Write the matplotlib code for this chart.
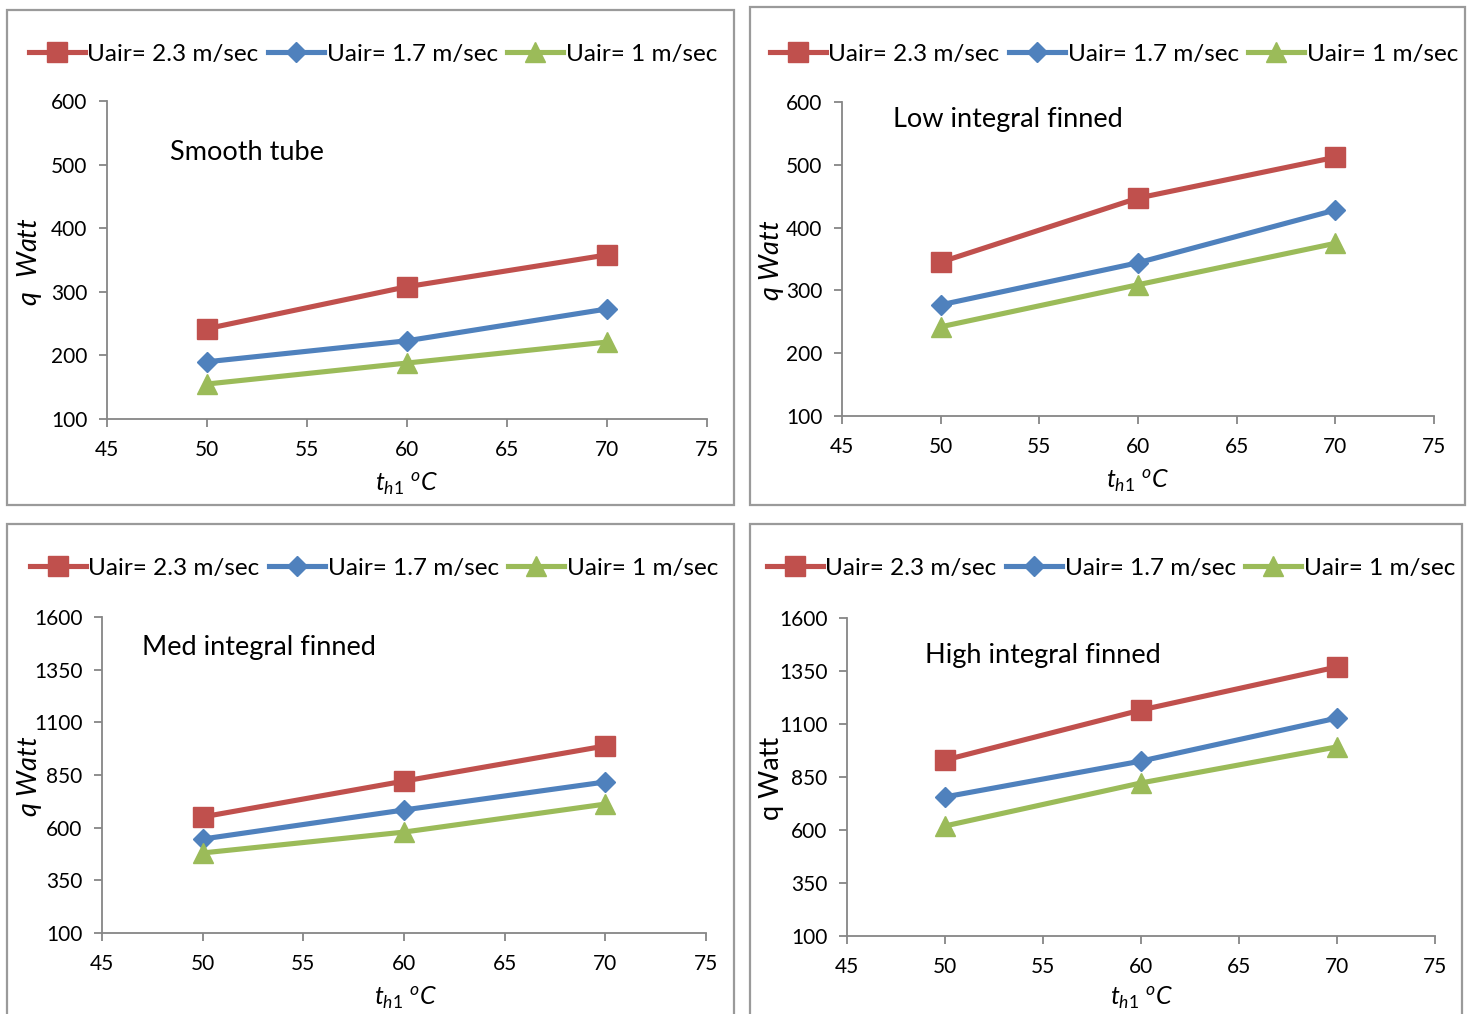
import matplotlib
matplotlib.use("Agg")
import matplotlib.pyplot as plt
from matplotlib.patches import Rectangle

plt.rcParams['font.family'] = ['Lato', 'DejaVu Sans']
plt.rcParams['mathtext.fontset'] = 'custom'
plt.rcParams['mathtext.rm'] = 'Lato'
plt.rcParams['mathtext.it'] = 'Lato:italic'

# ---- data ----
temps = [50, 60, 70]
series_labels = ['Uair= 2.3 m/sec', 'Uair= 1.7 m/sec', 'Uair= 1 m/sec']

smooth_23 = [242, 308, 358]
smooth_17 = [190, 223, 273]
smooth_10 = [155, 188, 221]

low_23 = [345, 447, 512]
low_17 = [277, 344, 428]
low_10 = [242, 309, 375]

med_23 = [651, 821, 988]
med_17 = [546, 684, 817]
med_10 = [480, 579, 712]

high_23 = [930, 1166, 1369]
high_17 = [756, 925, 1128]
high_10 = [619, 822, 992]

x_ticks = [45, 50, 55, 60, 65, 70, 75]
y_ticks_top = [100, 200, 300, 400, 500, 600]
y_ticks_bottom = [100, 350, 600, 850, 1100, 1350, 1600]

# ---- style ----
RED = '#C0504D'
BLUE = '#4F81BD'
GREEN = '#9BBB59'
SPINE = '#868686'
W, H = 1473, 1014

fig = plt.figure(figsize=(W / 100, H / 100), dpi=100, facecolor='white')


def px_rect(x0, y0, x1, y1):
    # pixel box (top-left origin) -> figure fraction [l, b, w, h]
    return [x0 / W, 1 - y1 / H, (x1 - x0) / W, (y1 - y0) / H]


panels = [
    dict(frame=(7, 10, 734, 505), ax=(107, 101, 707, 419), data=(smooth_23, smooth_17, smooth_10),
         yticks=y_ticks_top, title='Smooth tube', title_xy=(170, 153), leg=(373, 54),
         ylabel=r'$q\ \ Watt$', ylab_xy=(30, 262), xlab_xy=(407, 484)),
    dict(frame=(750, 7, 1465, 505), ax=(842, 102, 1434, 416), data=(low_23, low_17, low_10),
         yticks=y_ticks_top, title='Low integral finned', title_xy=(893, 119), leg=(1114, 54),
         ylabel=r'$q\ Watt$', ylab_xy=(772, 260), xlab_xy=(1138, 481)),
    dict(frame=(7, 524, 734, 1030), ax=(102, 617, 706, 933), data=(med_23, med_17, med_10),
         yticks=y_ticks_bottom, title='Med integral finned', title_xy=(142, 647), leg=(374, 568),
         ylabel=r'$q\ Watt$', ylab_xy=(30, 776), xlab_xy=(406, 998)),
    dict(frame=(750, 524, 1462, 1030), ax=(847, 618, 1435, 936), data=(high_23, high_17, high_10),
         yticks=y_ticks_bottom, title='High integral finned', title_xy=(925, 656), leg=(1111, 568),
         ylabel='q Watt', ylab_xy=(772, 778), xlab_xy=(1142, 998)),
]

for p in panels:
    # grey outer frame of each chart
    x0, y0, x1, y1 = p['frame']
    fig.patches.append(Rectangle((x0 / W, 1 - y1 / H), (x1 - x0) / W, (y1 - y0) / H,
                                 transform=fig.transFigure, fill=False,
                                 edgecolor='#9a9a9a', linewidth=1.6))

    ax = fig.add_axes(px_rect(*p['ax']))
    d23, d17, d10 = p['data']
    ax.plot(temps, d23, color=RED, lw=3.7, marker='s', ms=14, label=series_labels[0])
    ax.plot(temps, d17, color=BLUE, lw=3.7, marker='D', ms=10.5, label=series_labels[1])
    ax.plot(temps, d10, color=GREEN, lw=3.7, marker='^', ms=14, label=series_labels[2])

    yt = p['yticks']
    ax.set_xlim(45, 75)
    ax.set_ylim(yt[0], yt[-1])
    ax.set_xticks(x_ticks)
    ax.set_yticks(yt)
    for s in ['top', 'right']:
        ax.spines[s].set_visible(False)
    for s in ['left', 'bottom']:
        ax.spines[s].set_color(SPINE)
        ax.spines[s].set_linewidth(1.3)
    ax.tick_params(direction='out', length=6, width=1.3, color=SPINE, labelsize=15)
    ax.tick_params(axis='x', pad=9)
    ax.tick_params(axis='y', pad=8)
    ax.set_facecolor('none')

    ax.legend(loc='center', bbox_to_anchor=(p['leg'][0] / W, 1 - p['leg'][1] / H),
              bbox_transform=fig.transFigure, ncol=3, frameon=False, fontsize=17.5,
              handlelength=2.3, handletextpad=0.1, columnspacing=0.4, borderpad=0)

    fig.text(p['title_xy'][0] / W, 1 - p['title_xy'][1] / H, p['title'],
             fontsize=19.5, ha='left', va='center')
    fig.text(p['ylab_xy'][0] / W, 1 - p['ylab_xy'][1] / H, p['ylabel'],
             fontsize=19.5, rotation=90, ha='center', va='center')
    fig.text(p['xlab_xy'][0] / W, 1 - p['xlab_xy'][1] / H, r'$t_{h1}\ ^{o}C$',
             fontsize=18, ha='center', va='center')

fig.savefig('out.png', dpi=100, facecolor='white')
